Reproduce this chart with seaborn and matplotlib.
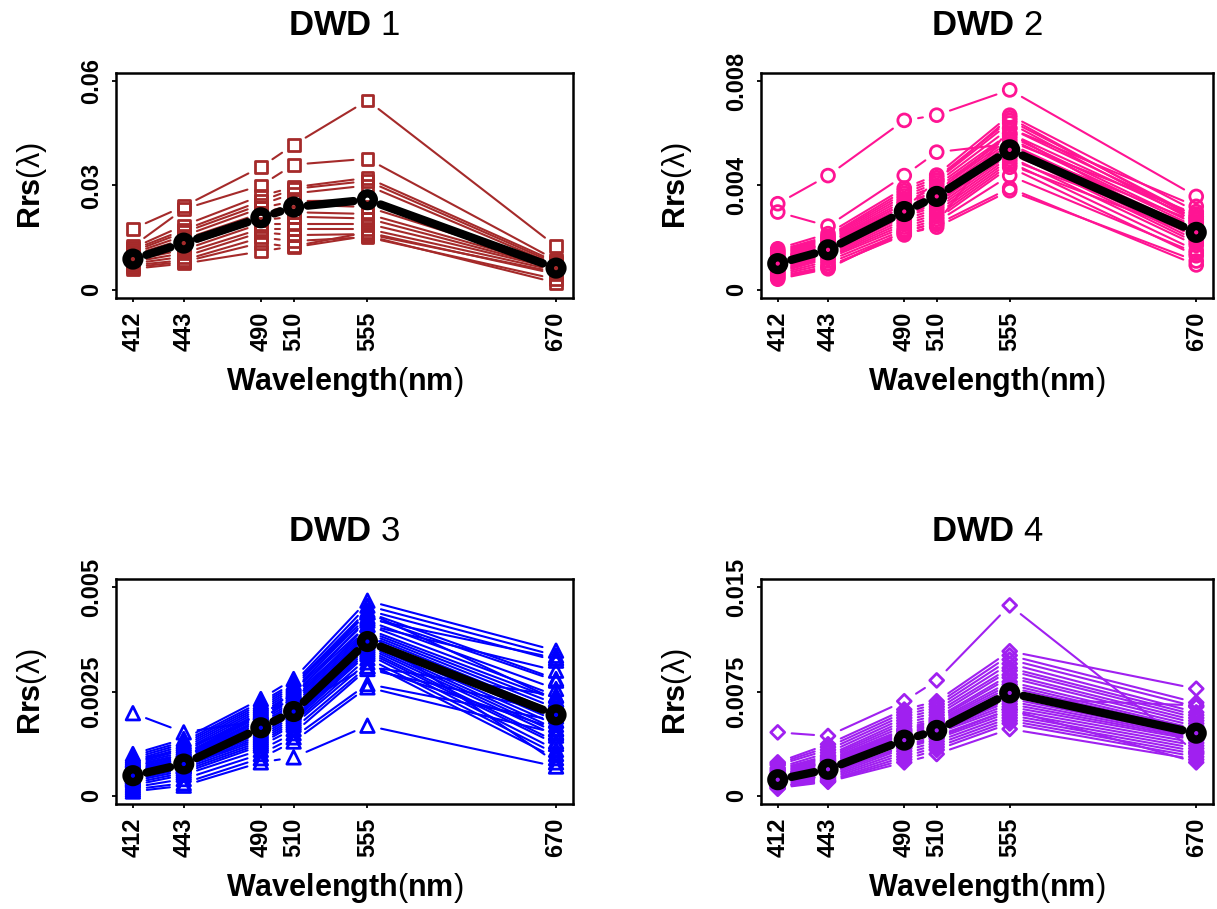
import numpy as np
import pandas as pd
import seaborn as sns
import matplotlib.pyplot as plt

# wavelengths (nm)
wavelengths = [412, 443, 490, 510, 555, 670]

# DWD 1 spectra
dwd1 = [
    [0.0175, 0.0240, 0.0353, 0.0417, 0.0545, 0.0125],
    [0.0125, 0.0232, 0.0300, 0.0360, 0.0377, 0.0085],
    [0.0120, 0.0185, 0.0270, 0.0295, 0.0322, 0.0080],
    [0.0115, 0.0172, 0.0255, 0.0290, 0.0313, 0.0075],
    [0.0110, 0.0165, 0.0245, 0.0277, 0.0300, 0.0070],
    [0.0105, 0.0155, 0.0235, 0.0255, 0.0257, 0.0072],
    [0.0100, 0.0145, 0.0220, 0.0245, 0.0238, 0.0068],
    [0.0095, 0.0135, 0.0210, 0.0223, 0.0218, 0.0065],
    [0.0090, 0.0125, 0.0200, 0.0210, 0.0205, 0.0062],
    [0.0085, 0.0115, 0.0190, 0.0190, 0.0190, 0.0060],
    [0.0080, 0.0105, 0.0175, 0.0175, 0.0175, 0.0055],
    [0.0075, 0.0095, 0.0165, 0.0157, 0.0160, 0.0050],
    [0.0070, 0.0085, 0.0150, 0.0140, 0.0151, 0.0030],
    [0.0065, 0.0080, 0.0135, 0.0122, 0.0155, 0.0020],
    [0.0060, 0.0075, 0.0110, 0.0125, 0.0165, 0.0045],
]
dwd1_mean = [0.0088, 0.0134, 0.0207, 0.0238, 0.0259, 0.0062]

# DWD 2 spectra
dwd2 = [
    [0.00330, 0.00438, 0.00650, 0.00670, 0.00767, 0.00358],
    [0.00298, 0.00244, 0.00438, 0.00528, 0.00560, 0.00200],
    [0.00157, 0.00215, 0.00390, 0.00440, 0.00670, 0.00300],
    [0.00150, 0.00205, 0.00380, 0.00430, 0.00650, 0.00280],
    [0.00145, 0.00200, 0.00370, 0.00420, 0.00640, 0.00260],
    [0.00140, 0.00195, 0.00360, 0.00410, 0.00620, 0.00320],
    [0.00135, 0.00190, 0.00350, 0.00400, 0.00600, 0.00270],
    [0.00130, 0.00185, 0.00340, 0.00390, 0.00590, 0.00250],
    [0.00125, 0.00180, 0.00330, 0.00380, 0.00580, 0.00240],
    [0.00120, 0.00175, 0.00320, 0.00370, 0.00570, 0.00290],
    [0.00115, 0.00170, 0.00310, 0.00360, 0.00560, 0.00230],
    [0.00110, 0.00165, 0.00305, 0.00350, 0.00550, 0.00210],
    [0.00105, 0.00160, 0.00300, 0.00345, 0.00545, 0.00260],
    [0.00100, 0.00155, 0.00295, 0.00340, 0.00540, 0.00190],
    [0.00095, 0.00150, 0.00290, 0.00335, 0.00535, 0.00220],
    [0.00090, 0.00145, 0.00285, 0.00330, 0.00530, 0.00180],
    [0.00085, 0.00140, 0.00280, 0.00320, 0.00520, 0.00240],
    [0.00080, 0.00135, 0.00270, 0.00310, 0.00510, 0.00170],
    [0.00075, 0.00130, 0.00260, 0.00300, 0.00500, 0.00230],
    [0.00070, 0.00125, 0.00250, 0.00290, 0.00490, 0.00150],
    [0.00065, 0.00120, 0.00240, 0.00280, 0.00480, 0.00210],
    [0.00060, 0.00110, 0.00230, 0.00270, 0.00470, 0.00130],
    [0.00055, 0.00100, 0.00220, 0.00260, 0.00438, 0.00140],
    [0.00050, 0.00090, 0.00210, 0.00250, 0.00390, 0.00095],
    [0.00045, 0.00085, 0.00215, 0.00240, 0.00380, 0.00110],
    [0.00040, 0.00080, 0.00225, 0.00255, 0.00620, 0.00280],
    [0.00100, 0.00160, 0.00310, 0.00420, 0.00660, 0.00270],
    [0.00120, 0.00180, 0.00330, 0.00375, 0.00600, 0.00200],
]
dwd2_mean = [0.00100, 0.00153, 0.00300, 0.00358, 0.00537, 0.00220]

# DWD 3 spectra
dwd3 = [
    [0.00198, 0.00152, 0.00180, 0.00210, 0.00310, 0.00160],
    [0.00100, 0.00136, 0.00232, 0.00280, 0.00468, 0.00348],
    [0.00095, 0.00130, 0.00225, 0.00270, 0.00456, 0.00336],
    [0.00090, 0.00125, 0.00220, 0.00265, 0.00445, 0.00324],
    [0.00085, 0.00120, 0.00215, 0.00260, 0.00440, 0.00280],
    [0.00080, 0.00115, 0.00210, 0.00255, 0.00430, 0.00276],
    [0.00078, 0.00110, 0.00205, 0.00250, 0.00420, 0.00256],
    [0.00075, 0.00105, 0.00200, 0.00245, 0.00410, 0.00240],
    [0.00072, 0.00100, 0.00195, 0.00240, 0.00400, 0.00230],
    [0.00070, 0.00098, 0.00190, 0.00235, 0.00395, 0.00220],
    [0.00065, 0.00095, 0.00185, 0.00230, 0.00390, 0.00210],
    [0.00062, 0.00092, 0.00180, 0.00225, 0.00385, 0.00200],
    [0.00060, 0.00090, 0.00175, 0.00220, 0.00380, 0.00190],
    [0.00058, 0.00088, 0.00170, 0.00215, 0.00375, 0.00180],
    [0.00055, 0.00085, 0.00165, 0.00210, 0.00370, 0.00170],
    [0.00052, 0.00082, 0.00160, 0.00205, 0.00365, 0.00160],
    [0.00050, 0.00080, 0.00155, 0.00200, 0.00360, 0.00152],
    [0.00048, 0.00078, 0.00150, 0.00195, 0.00355, 0.00144],
    [0.00045, 0.00075, 0.00145, 0.00190, 0.00350, 0.00130],
    [0.00042, 0.00072, 0.00140, 0.00185, 0.00345, 0.00124],
    [0.00040, 0.00070, 0.00135, 0.00180, 0.00340, 0.00110],
    [0.00038, 0.00065, 0.00130, 0.00175, 0.00330, 0.00100],
    [0.00035, 0.00060, 0.00125, 0.00170, 0.00320, 0.00090],
    [0.00030, 0.00055, 0.00120, 0.00160, 0.00310, 0.00240],
    [0.00025, 0.00050, 0.00110, 0.00150, 0.00304, 0.00200],
    [0.00020, 0.00040, 0.00100, 0.00140, 0.00268, 0.00180],
    [0.00015, 0.00030, 0.00090, 0.00130, 0.00260, 0.00150],
    [0.00010, 0.00024, 0.00080, 0.00092, 0.00168, 0.00070],
    [0.00085, 0.00110, 0.00190, 0.00250, 0.00440, 0.00230],
    [0.00068, 0.00100, 0.00180, 0.00240, 0.00425, 0.00330],
    [0.00055, 0.00090, 0.00200, 0.00228, 0.00410, 0.00300],
    [0.00045, 0.00070, 0.00170, 0.00200, 0.00390, 0.00080],
]
dwd3_mean = [0.00048, 0.00076, 0.00163, 0.00202, 0.00370, 0.00194]

# DWD 4 spectra
dwd4 = [
    [0.00456, 0.00430, 0.00680, 0.00830, 0.01370, 0.00310],
    [0.00240, 0.00370, 0.00620, 0.00680, 0.01040, 0.00770],
    [0.00230, 0.00350, 0.00600, 0.00660, 0.01010, 0.00670],
    [0.00220, 0.00330, 0.00580, 0.00640, 0.00980, 0.00640],
    [0.00200, 0.00310, 0.00560, 0.00620, 0.00950, 0.00600],
    [0.00190, 0.00290, 0.00540, 0.00600, 0.00920, 0.00580],
    [0.00180, 0.00280, 0.00520, 0.00580, 0.00900, 0.00560],
    [0.00170, 0.00270, 0.00500, 0.00560, 0.00870, 0.00540],
    [0.00160, 0.00260, 0.00480, 0.00550, 0.00850, 0.00520],
    [0.00150, 0.00250, 0.00470, 0.00540, 0.00820, 0.00500],
    [0.00145, 0.00240, 0.00460, 0.00530, 0.00800, 0.00480],
    [0.00140, 0.00230, 0.00450, 0.00520, 0.00780, 0.00470],
    [0.00135, 0.00220, 0.00440, 0.00510, 0.00760, 0.00460],
    [0.00130, 0.00210, 0.00430, 0.00500, 0.00740, 0.00450],
    [0.00125, 0.00200, 0.00420, 0.00490, 0.00720, 0.00440],
    [0.00120, 0.00190, 0.00410, 0.00480, 0.00700, 0.00430],
    [0.00110, 0.00180, 0.00400, 0.00470, 0.00680, 0.00420],
    [0.00100, 0.00170, 0.00390, 0.00460, 0.00660, 0.00410],
    [0.00090, 0.00160, 0.00380, 0.00450, 0.00640, 0.00400],
    [0.00085, 0.00150, 0.00360, 0.00430, 0.00620, 0.00380],
    [0.00080, 0.00140, 0.00340, 0.00410, 0.00600, 0.00360],
    [0.00075, 0.00130, 0.00320, 0.00390, 0.00580, 0.00340],
    [0.00070, 0.00120, 0.00300, 0.00370, 0.00560, 0.00320],
    [0.00065, 0.00110, 0.00280, 0.00350, 0.00540, 0.00300],
    [0.00060, 0.00105, 0.00260, 0.00330, 0.00520, 0.00280],
    [0.00055, 0.00100, 0.00240, 0.00300, 0.00480, 0.00260],
    [0.00050, 0.00160, 0.00350, 0.00420, 0.00620, 0.00240],
    [0.00140, 0.00250, 0.00420, 0.00450, 0.00700, 0.00650],
]
dwd4_mean = [0.00115, 0.00190, 0.00400, 0.00470, 0.00740, 0.00450]

y_top = [0.06, 0.008, 0.005, 0.015]
y_ticklabels = [["0", "0.03", "0.06"], ["0", "0.004", "0.008"],
                ["0", "0.0025", "0.005"], ["0", "0.0075", "0.015"]]

sns.set_theme(style="white")
plt.rcParams['font.family'] = ['Liberation Sans', 'DejaVu Sans']
plt.rcParams['mathtext.fontset'] = 'custom'
plt.rcParams['mathtext.rm'] = 'Liberation Sans'
plt.rcParams['mathtext.bf'] = 'Liberation Sans:bold'
plt.rcParams['text.color'] = 'black'
plt.rcParams['xtick.color'] = 'black'
plt.rcParams['ytick.color'] = 'black'

GAP = 14  # px gap around points, like R type="b"


def gapped_lines(ax, x, y, gap, **kw):
    # R type="b": segments stop short of each point
    pts = ax.transData.transform(np.column_stack([x, y]))
    inv = ax.transData.inverted()
    for p0, p1 in zip(pts[:-1], pts[1:]):
        d = p1 - p0
        L = np.hypot(d[0], d[1])
        if L <= 2 * gap:
            continue
        u = d / L
        a = inv.transform(p0 + u * gap)
        b = inv.transform(p1 - u * gap)
        ax.plot([a[0], b[0]], [a[1], b[1]], solid_capstyle='round', **kw)


panels = [
    ("1", dwd1, dwd1_mean, "#A52A2A", "s", 72),
    ("2", dwd2, dwd2_mean, "#FF1493", "o", 85),
    ("3", dwd3, dwd3_mean, "#0000FF", "^", 95),
    ("4", dwd4, dwd4_mean, "#A020F0", "D", 50),
]
positions = [
    [0.0953, 0.6722, 0.3755, 0.2475],
    [0.6253, 0.6722, 0.3714, 0.2475],
    [0.0953, 0.1155, 0.3755, 0.2475],
    [0.6253, 0.1155, 0.3714, 0.2475],
]

fig = plt.figure(figsize=(12.17, 9.09), dpi=100)

for k, (num, spectra, mean, col, mk, size) in enumerate(panels):
    ax = fig.add_axes(positions[k])
    top = y_top[k]
    ax.set_xlim(412 - 0.04 * 258, 670 + 0.04 * 258)
    ax.set_ylim(-0.04 * top, top * 1.04)

    for spec in spectra:
        gapped_lines(ax, wavelengths, spec, GAP, color=col, lw=1.5, zorder=2)

    df = pd.DataFrame([(i, w, v) for i, spec in enumerate(spectra)
                       for w, v in zip(wavelengths, spec)],
                      columns=["sample", "wavelength", "rrs"])
    sns.scatterplot(data=df, x="wavelength", y="rrs", marker=mk, s=size,
                    facecolor="none", edgecolor=col, linewidth=2.0,
                    ax=ax, zorder=3, legend=False)

    gapped_lines(ax, wavelengths, mean, GAP, color="black", lw=6, zorder=4)
    ax.scatter(wavelengths, mean, marker="o", s=85, facecolor="none",
               edgecolor="black", linewidths=6, zorder=5)

    ax.set_xlim(412 - 0.04 * 258, 670 + 0.04 * 258)
    ax.set_ylim(-0.04 * top, top * 1.04)
    ax.set_xlabel("")
    ax.set_ylabel("")

    ax.set_xticks(wavelengths)
    ax.set_xticklabels([str(w) for w in wavelengths], rotation=90,
                       fontweight="bold", fontsize=17)
    ax.set_yticks([0, top / 2, top])
    ax.set_yticklabels(y_ticklabels[k], rotation=90, va="center",
                       fontweight="bold", fontsize=17)
    ax.tick_params(axis="x", bottom=True, direction="out", length=3,
                   width=1.3, color="black", pad=7)
    ax.tick_params(axis="y", left=True, direction="out", length=3,
                   width=1.3, color="black", pad=6.5)
    for sp in ax.spines.values():
        sp.set_color("black")
        sp.set_linewidth(1.8)

    ax.annotate(r"$\mathbf{DWD}$ " + num, xy=(0.5, 1), xycoords="axes fraction",
                xytext=(0, 38), textcoords="offset pixels",
                ha="center", va="baseline", fontsize=25)
    ax.annotate(r"$\mathbf{Wavelength}$($\mathbf{nm}$)", xy=(0.5, 0),
                xycoords="axes fraction", xytext=(0, -92),
                textcoords="offset pixels", ha="center", va="baseline",
                fontsize=22)
    ax.annotate(r"$\mathbf{Rrs}$(λ)", xy=(0, 0.5), xycoords="axes fraction",
                xytext=(-84, 0), textcoords="offset pixels", rotation=90,
                ha="center", va="center", fontsize=22)

fig.savefig("out.png", dpi=100)
